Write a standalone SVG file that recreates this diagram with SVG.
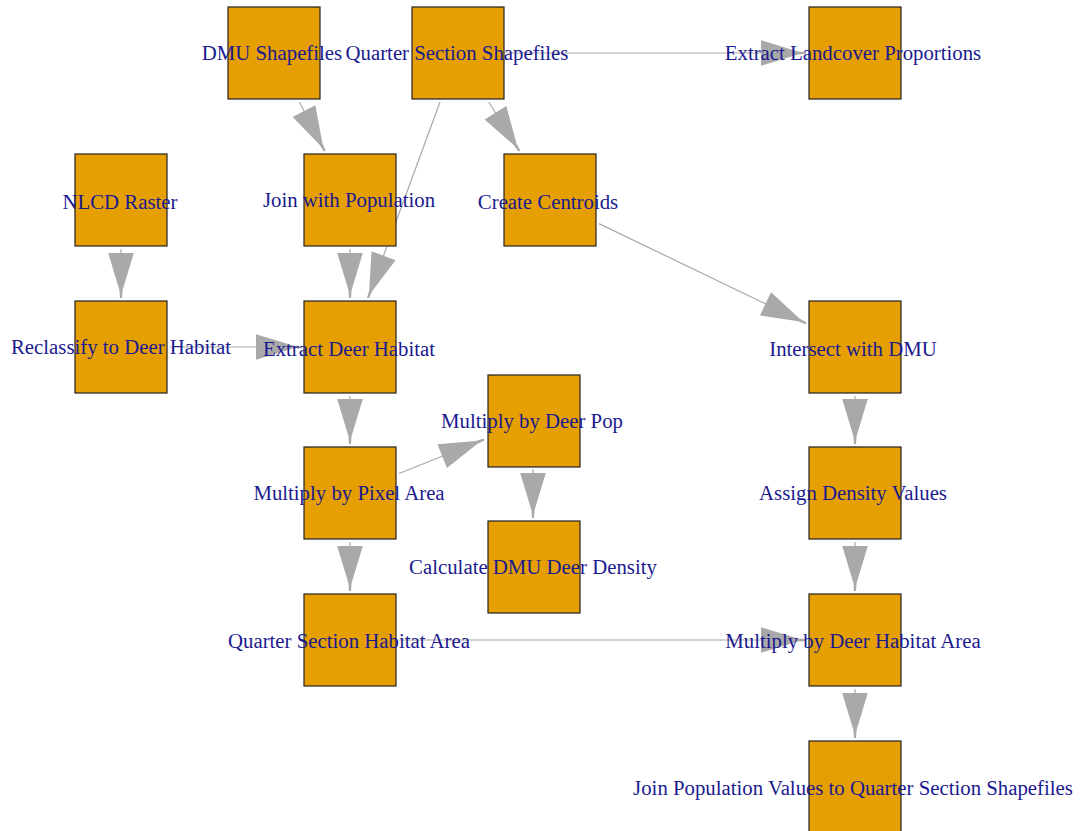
<svg xmlns="http://www.w3.org/2000/svg" width="1081" height="831" viewBox="0 0 1081 831">
<defs>
<style>
.box{fill:#E69F00;stroke:#222;stroke-width:1.2}
.lbl{font-family:"Liberation Serif","Times New Roman",serif;font-size:20.8px;fill:#1a1a8f;text-anchor:middle}
.edge{stroke:#A9A9A9;stroke-width:1.2;fill:none;marker-end:url(#ah)}
</style>
<marker id="ah" viewBox="-46 -14 47 28" markerWidth="47" markerHeight="28" refX="0" refY="0" orient="auto" markerUnits="userSpaceOnUse">
<path d="M0,-1 L-8,-1.6 L-45,-12.8 L-45,12.8 L-8,1.6 L0,1 Z" fill="#A9A9A9"/>
</marker>
</defs>
<rect width="1081" height="831" fill="#fff"/>
<g id="connectors">
<line class="edge" x1="299.3" y1="102" x2="324.7" y2="151"/>
<line class="edge" x1="507" y1="53" x2="806" y2="53"/>
<line class="edge" x1="488.7" y1="102" x2="519.3" y2="151"/>
<line class="edge" x1="440" y1="102" x2="368" y2="298"/>
<line class="edge" x1="121" y1="249" x2="121" y2="298"/>
<line class="edge" x1="350" y1="249" x2="350" y2="298"/>
<line class="edge" x1="170" y1="347" x2="301" y2="347"/>
<line class="edge" x1="599" y1="223.6" x2="806" y2="323.4"/>
<line class="edge" x1="350" y1="396" x2="350" y2="444"/>
<line class="edge" x1="399" y1="473.5" x2="484" y2="439.5"/>
<line class="edge" x1="533" y1="469" x2="533" y2="518"/>
<line class="edge" x1="350" y1="542" x2="350" y2="591"/>
<line class="edge" x1="855" y1="396" x2="855" y2="444"/>
<line class="edge" x1="855" y1="542" x2="855" y2="591"/>
<line class="edge" x1="399" y1="640" x2="806" y2="640"/>
<line class="edge" x1="855" y1="689" x2="855" y2="738"/>
</g>
<g id="n-dmu"><rect class="box" x="228" y="7" width="92" height="92"/><text class="lbl" x="272" y="60">DMU Shapefiles</text></g>
<g id="n-qss"><rect class="box" x="412" y="7" width="92" height="92"/><text class="lbl" x="457" y="60">Quarter Section Shapefiles</text></g>
<g id="n-elp"><rect class="box" x="809" y="7" width="92" height="92"/><text class="lbl" x="853" y="60">Extract Landcover Proportions</text></g>
<g id="n-nlcd"><rect class="box" x="75" y="154" width="92" height="92"/><text class="lbl" x="120" y="209">NLCD Raster</text></g>
<g id="n-jwp"><rect class="box" x="304" y="154" width="92" height="92"/><text class="lbl" x="349" y="207">Join with Population</text></g>
<g id="n-cc"><rect class="box" x="504" y="154" width="92" height="92"/><text class="lbl" x="548" y="209">Create Centroids</text></g>
<g id="n-rdh"><rect class="box" x="75" y="301" width="92" height="92"/><text class="lbl" x="121" y="354">Reclassify to Deer Habitat</text></g>
<g id="n-edh"><rect class="box" x="304" y="301" width="92" height="92"/><text class="lbl" x="349" y="356">Extract Deer Habitat</text></g>
<g id="n-idmu"><rect class="box" x="809" y="301" width="92" height="92"/><text class="lbl" x="853" y="356">Intersect with DMU</text></g>
<g id="n-mdp"><rect class="box" x="488" y="375" width="92" height="92"/><text class="lbl" x="532" y="428">Multiply by Deer Pop</text></g>
<g id="n-mpa"><rect class="box" x="304" y="447" width="92" height="92"/><text class="lbl" x="349" y="500">Multiply by Pixel Area</text></g>
<g id="n-adv"><rect class="box" x="809" y="447" width="92" height="92"/><text class="lbl" x="853" y="500">Assign Density Values</text></g>
<g id="n-cdd"><rect class="box" x="488" y="521" width="92" height="92"/><text class="lbl" x="533" y="574">Calculate DMU Deer Density</text></g>
<g id="n-qsha"><rect class="box" x="304" y="594" width="92" height="92"/><text class="lbl" x="349" y="648">Quarter Section Habitat Area</text></g>
<g id="n-mdha"><rect class="box" x="809" y="594" width="92" height="92"/><text class="lbl" x="853" y="648">Multiply by Deer Habitat Area</text></g>
<g id="n-jpv"><rect class="box" x="809" y="741" width="92" height="92"/><text class="lbl" x="853" y="795">Join Population Values to Quarter Section Shapefiles</text></g>
</svg>
